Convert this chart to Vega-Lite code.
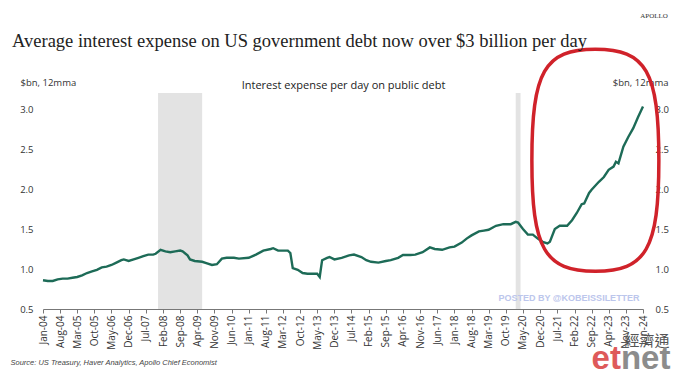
{
  "$schema": "https://vega.github.io/schema/vega-lite/v6.json",
  "width": 600,
  "height": 216,
  "autosize": "none",
  "padding": {"left": 43, "top": 93, "right": 36, "bottom": 68},
  "background": "white",
  "config": {"view": {"stroke": null}, "font": "Open Sans"},
  "datasets": {
    "recessions": [
      {"start": "2007-12-01", "end": "2009-06-01"},
      {"start": "2020-02-01", "end": "2020-04-01"}
    ],
    "debt": [
      {"date": "2004-01-01", "value": 0.86},
      {"date": "2004-03-01", "value": 0.85},
      {"date": "2004-05-01", "value": 0.85},
      {"date": "2004-07-01", "value": 0.87},
      {"date": "2004-09-01", "value": 0.88},
      {"date": "2004-11-01", "value": 0.88},
      {"date": "2005-01-01", "value": 0.89},
      {"date": "2005-03-01", "value": 0.90},
      {"date": "2005-05-01", "value": 0.92},
      {"date": "2005-07-01", "value": 0.95},
      {"date": "2005-09-01", "value": 0.97},
      {"date": "2005-11-01", "value": 0.99},
      {"date": "2006-01-01", "value": 1.02},
      {"date": "2006-03-01", "value": 1.03},
      {"date": "2006-05-01", "value": 1.05},
      {"date": "2006-07-01", "value": 1.08},
      {"date": "2006-09-01", "value": 1.11},
      {"date": "2006-10-01", "value": 1.12},
      {"date": "2006-12-01", "value": 1.10},
      {"date": "2007-02-01", "value": 1.12},
      {"date": "2007-04-01", "value": 1.14},
      {"date": "2007-06-01", "value": 1.16},
      {"date": "2007-08-01", "value": 1.18},
      {"date": "2007-10-01", "value": 1.18},
      {"date": "2007-11-01", "value": 1.19},
      {"date": "2008-01-01", "value": 1.24},
      {"date": "2008-03-01", "value": 1.22},
      {"date": "2008-05-01", "value": 1.21},
      {"date": "2008-07-01", "value": 1.22},
      {"date": "2008-09-01", "value": 1.23},
      {"date": "2008-10-01", "value": 1.22},
      {"date": "2008-12-01", "value": 1.17},
      {"date": "2009-01-01", "value": 1.12},
      {"date": "2009-03-01", "value": 1.10},
      {"date": "2009-06-01", "value": 1.09},
      {"date": "2009-08-01", "value": 1.07},
      {"date": "2009-10-01", "value": 1.05},
      {"date": "2009-12-01", "value": 1.06},
      {"date": "2010-02-01", "value": 1.13},
      {"date": "2010-04-01", "value": 1.14},
      {"date": "2010-07-01", "value": 1.14},
      {"date": "2010-09-01", "value": 1.13},
      {"date": "2011-01-01", "value": 1.14},
      {"date": "2011-04-01", "value": 1.18},
      {"date": "2011-07-01", "value": 1.23},
      {"date": "2011-10-01", "value": 1.25},
      {"date": "2011-11-01", "value": 1.26},
      {"date": "2012-01-01", "value": 1.23},
      {"date": "2012-03-01", "value": 1.23},
      {"date": "2012-05-01", "value": 1.23},
      {"date": "2012-06-01", "value": 1.20},
      {"date": "2012-07-01", "value": 1.01},
      {"date": "2012-09-01", "value": 0.99},
      {"date": "2012-11-01", "value": 0.95},
      {"date": "2013-01-01", "value": 0.94},
      {"date": "2013-03-01", "value": 0.94},
      {"date": "2013-05-01", "value": 0.94},
      {"date": "2013-06-01", "value": 0.90},
      {"date": "2013-07-01", "value": 1.11},
      {"date": "2013-09-01", "value": 1.14},
      {"date": "2013-10-01", "value": 1.15},
      {"date": "2013-12-01", "value": 1.12},
      {"date": "2014-03-01", "value": 1.14},
      {"date": "2014-06-01", "value": 1.17},
      {"date": "2014-08-01", "value": 1.18},
      {"date": "2014-11-01", "value": 1.15},
      {"date": "2015-01-01", "value": 1.11},
      {"date": "2015-03-01", "value": 1.09},
      {"date": "2015-06-01", "value": 1.08},
      {"date": "2015-09-01", "value": 1.10},
      {"date": "2015-11-01", "value": 1.11},
      {"date": "2016-02-01", "value": 1.14},
      {"date": "2016-04-01", "value": 1.175},
      {"date": "2016-07-01", "value": 1.175},
      {"date": "2016-09-01", "value": 1.18},
      {"date": "2016-12-01", "value": 1.21},
      {"date": "2017-03-01", "value": 1.27},
      {"date": "2017-05-01", "value": 1.25},
      {"date": "2017-08-01", "value": 1.24},
      {"date": "2017-11-01", "value": 1.27},
      {"date": "2018-01-01", "value": 1.28},
      {"date": "2018-04-01", "value": 1.33},
      {"date": "2018-06-01", "value": 1.38},
      {"date": "2018-08-01", "value": 1.42},
      {"date": "2018-11-01", "value": 1.47},
      {"date": "2019-01-01", "value": 1.48},
      {"date": "2019-03-01", "value": 1.49},
      {"date": "2019-06-01", "value": 1.54},
      {"date": "2019-09-01", "value": 1.56},
      {"date": "2019-12-01", "value": 1.56},
      {"date": "2020-02-01", "value": 1.59},
      {"date": "2020-03-01", "value": 1.58},
      {"date": "2020-05-01", "value": 1.50},
      {"date": "2020-07-01", "value": 1.43},
      {"date": "2020-09-01", "value": 1.43},
      {"date": "2020-11-01", "value": 1.38},
      {"date": "2021-01-01", "value": 1.34},
      {"date": "2021-03-01", "value": 1.32},
      {"date": "2021-04-01", "value": 1.34},
      {"date": "2021-06-01", "value": 1.50},
      {"date": "2021-08-01", "value": 1.54},
      {"date": "2021-11-01", "value": 1.54},
      {"date": "2022-01-01", "value": 1.61},
      {"date": "2022-03-01", "value": 1.70},
      {"date": "2022-05-01", "value": 1.81},
      {"date": "2022-06-01", "value": 1.82},
      {"date": "2022-08-01", "value": 1.95},
      {"date": "2022-09-01", "value": 1.99},
      {"date": "2022-12-01", "value": 2.09},
      {"date": "2023-02-01", "value": 2.15},
      {"date": "2023-04-01", "value": 2.24},
      {"date": "2023-06-01", "value": 2.28},
      {"date": "2023-07-01", "value": 2.34},
      {"date": "2023-08-01", "value": 2.32},
      {"date": "2023-10-01", "value": 2.53},
      {"date": "2023-12-01", "value": 2.65},
      {"date": "2024-02-01", "value": 2.76},
      {"date": "2024-04-01", "value": 2.90},
      {"date": "2024-06-01", "value": 3.03}
    ]
  },
  "resolve": {"axis": {"x": "independent", "y": "independent"}},
  "layer": [
    {
      "data": {"name": "recessions"},
      "mark": {"type": "rect", "color": "#e3e3e3"},
      "encoding": {
        "x": {
          "field": "start",
          "type": "temporal",
          "axis": {
            "orient": "top",
            "title": "Interest expense per day on public debt",
            "labels": false,
            "ticks": false,
            "domain": false,
            "grid": false,
            "titleFont": "Open Sans",
            "titleFontSize": 11,
            "titleFontWeight": "normal",
            "titleColor": "#222222",
            "titlePadding": 3
          }
        },
        "x2": {"field": "end"},
        "y": {"datum": 3.2, "type": "quantitative", "axis": null},
        "y2": {"datum": 0.5}
      }
    },
    {
      "data": {"name": "debt"},
      "mark": {"type": "line", "color": "#1d6b57", "strokeWidth": 2.4},
      "encoding": {
        "x": {
          "field": "date",
          "type": "temporal",
          "scale": {
            "type": "utc",
            "nice": false,
            "domain": [
              {"year": 2004, "month": 1, "date": 1, "utc": true},
              {"year": 2024, "month": 6, "date": 1, "utc": true}
            ]
          },
          "axis": {
            "orient": "bottom",
            "values": [
              {"year": 2004, "month": 1, "date": 1, "utc": true},
              {"year": 2004, "month": 8, "date": 1, "utc": true},
              {"year": 2005, "month": 3, "date": 1, "utc": true},
              {"year": 2005, "month": 10, "date": 1, "utc": true},
              {"year": 2006, "month": 5, "date": 1, "utc": true},
              {"year": 2006, "month": 12, "date": 1, "utc": true},
              {"year": 2007, "month": 7, "date": 1, "utc": true},
              {"year": 2008, "month": 2, "date": 1, "utc": true},
              {"year": 2008, "month": 9, "date": 1, "utc": true},
              {"year": 2009, "month": 4, "date": 1, "utc": true},
              {"year": 2009, "month": 11, "date": 1, "utc": true},
              {"year": 2010, "month": 6, "date": 1, "utc": true},
              {"year": 2011, "month": 1, "date": 1, "utc": true},
              {"year": 2011, "month": 8, "date": 1, "utc": true},
              {"year": 2012, "month": 3, "date": 1, "utc": true},
              {"year": 2012, "month": 10, "date": 1, "utc": true},
              {"year": 2013, "month": 5, "date": 1, "utc": true},
              {"year": 2013, "month": 12, "date": 1, "utc": true},
              {"year": 2014, "month": 7, "date": 1, "utc": true},
              {"year": 2015, "month": 2, "date": 1, "utc": true},
              {"year": 2015, "month": 9, "date": 1, "utc": true},
              {"year": 2016, "month": 4, "date": 1, "utc": true},
              {"year": 2016, "month": 11, "date": 1, "utc": true},
              {"year": 2017, "month": 6, "date": 1, "utc": true},
              {"year": 2018, "month": 1, "date": 1, "utc": true},
              {"year": 2018, "month": 8, "date": 1, "utc": true},
              {"year": 2019, "month": 3, "date": 1, "utc": true},
              {"year": 2019, "month": 10, "date": 1, "utc": true},
              {"year": 2020, "month": 5, "date": 1, "utc": true},
              {"year": 2020, "month": 12, "date": 1, "utc": true},
              {"year": 2021, "month": 7, "date": 1, "utc": true},
              {"year": 2022, "month": 2, "date": 1, "utc": true},
              {"year": 2022, "month": 9, "date": 1, "utc": true},
              {"year": 2023, "month": 4, "date": 1, "utc": true},
              {"year": 2023, "month": 11, "date": 1, "utc": true},
              {"year": 2024, "month": 6, "date": 1, "utc": true}
            ],
            "format": "%b-%y",
            "labelAngle": -90,
            "labelFont": "Open Sans",
            "labelFontSize": 10,
            "labelColor": "#333333",
            "labelPadding": 2,
            "labelOverlap": false,
            "labelFlush": false,
            "tickSize": 4,
            "tickColor": "#777777",
            "domainColor": "#777777",
            "grid": false,
            "title": "Source: US Treasury, Haver Analytics, Apollo Chief Economist",
            "titleFont": "Liberation Sans",
            "titleFontStyle": "italic",
            "titleFontSize": 7.5,
            "titleFontWeight": "normal",
            "titleColor": "#444444",
            "titleAnchor": "start",
            "titleAlign": "left",
            "titleX": -33,
            "titlePadding": 9
          }
        },
        "y": {
          "field": "value",
          "type": "quantitative",
          "scale": {"domain": [0.5, 3.2], "nice": false, "zero": false},
          "axis": {
            "orient": "left",
            "values": [0.5, 1, 1.5, 2, 2.5, 3],
            "format": ".1f",
            "grid": false,
            "domain": false,
            "ticks": false,
            "labelPadding": 10,
            "labelFont": "Open Sans",
            "labelFontSize": 9.5,
            "labelColor": "#333333",
            "title": "$bn, 12mma",
            "titleAngle": 0,
            "titleAlign": "left",
            "titleBaseline": "middle",
            "titleX": -23,
            "titleY": -11,
            "titleFont": "Open Sans",
            "titleFontSize": 9.5,
            "titleFontWeight": "normal",
            "titleColor": "#333333"
          }
        }
      }
    },
    {
      "data": {"values": [{}]},
      "mark": {
        "type": "point",
        "shape": "M 0 -1 C 0.458 -1 0.572 -0.8 0.572 0 C 0.572 0.8 0.458 1 0 1 C -0.458 1 -0.572 0.8 -0.572 0 C -0.572 -0.8 -0.458 -1 0 -1 Z",
        "size": 49284,
        "filled": false,
        "stroke": "#d0222a",
        "strokeWidth": 3.5,
        "opacity": 1
      },
      "encoding": {
        "x": {"datum": {"year": 2022, "month": 10, "date": 18, "utc": true}, "type": "temporal", "axis": null},
        "y": {
          "datum": 2.36,
          "type": "quantitative",
          "axis": {
            "orient": "right",
            "values": [0.5, 1, 1.5, 2, 2.5, 3],
            "format": ".1f",
            "grid": false,
            "domain": false,
            "ticks": false,
            "labelPadding": 12,
            "labelFont": "Open Sans",
            "labelFontSize": 9.5,
            "labelColor": "#333333",
            "title": "$bn, 12mma",
            "titleAngle": 0,
            "titleAlign": "right",
            "titleBaseline": "middle",
            "titleX": 25,
            "titleY": -11,
            "titleFont": "Open Sans",
            "titleFontSize": 9.5,
            "titleFontWeight": "normal",
            "titleColor": "#333333"
          }
        }
      }
    },
    {
      "data": {"values": [{}]},
      "mark": {"type": "text", "text": "Average interest expense on US government debt now over $3 billion per day", "font": "Liberation Serif", "fontSize": 18.5, "color": "#222222", "align": "left", "baseline": "alphabetic"},
      "encoding": {
        "x": {"datum": {"year": 2002, "month": 12, "date": 12, "utc": true}, "type": "temporal", "axis": null},
        "y": {"datum": 3.775, "type": "quantitative", "axis": null}
      }
    },
    {
      "data": {"values": [{}]},
      "mark": {"type": "text", "text": "POSTED BY @KOBEISSILETTER", "font": "Liberation Sans", "fontSize": 9, "fontWeight": "bold", "color": "#bcc6ec", "align": "center", "baseline": "middle"},
      "encoding": {
        "x": {"datum": {"year": 2021, "month": 11, "date": 25, "utc": true}, "type": "temporal", "axis": null},
        "y": {"datum": 0.64, "type": "quantitative", "axis": null}
      }
    },
    {
      "data": {"values": [{}]},
      "mark": {"type": "text", "text": "APOLLO", "font": "Liberation Serif", "fontSize": 7, "color": "#333333", "align": "right", "baseline": "middle"},
      "encoding": {
        "x": {"datum": {"year": 2025, "month": 4, "date": 7, "utc": true}, "type": "temporal", "axis": null},
        "y": {"datum": 4.16, "type": "quantitative", "axis": null}
      }
    },
    {
      "data": {"values": [{}]},
      "mark": {"type": "text", "text": "經濟通", "font": "Noto Sans CJK TC", "fontSize": 15, "color": "#555555", "align": "center", "baseline": "middle"},
      "encoding": {
        "x": {"datum": {"year": 2024, "month": 7, "date": 20, "utc": true}, "type": "temporal", "axis": null},
        "y": {"datum": 0.1, "type": "quantitative", "axis": null}
      }
    },
    {
      "data": {"values": [{}]},
      "mark": {"type": "text", "text": "et", "font": "Liberation Sans", "fontSize": 33, "fontWeight": "bold", "color": "#de5a5a", "align": "right", "baseline": "alphabetic"},
      "encoding": {
        "x": {"datum": {"year": 2023, "month": 9, "date": 1, "utc": true}, "type": "temporal", "axis": null},
        "y": {"datum": -0.25, "type": "quantitative", "axis": null}
      }
    },
    {
      "data": {"values": [{}]},
      "mark": {"type": "text", "text": "net", "font": "Liberation Sans", "fontSize": 33, "fontWeight": "bold", "color": "#8c8c8c", "align": "left", "baseline": "alphabetic"},
      "encoding": {
        "x": {"datum": {"year": 2023, "month": 9, "date": 1, "utc": true}, "type": "temporal", "axis": null},
        "y": {"datum": -0.25, "type": "quantitative", "axis": null}
      }
    }
  ]
}
